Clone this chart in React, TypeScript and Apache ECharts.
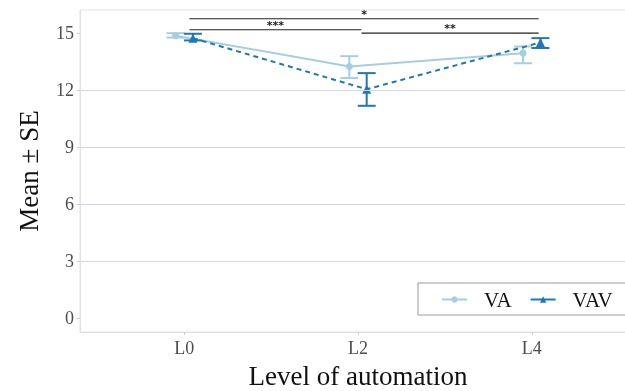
import React, { useEffect, useRef } from "react";
import * as echarts from "echarts";

const categories = ["L0", "L2", "L4"];
const vaMean = [14.85, 13.23, 13.93];
const vaLow = [14.75, 12.62, 13.4];
const vaHigh = [14.98, 13.77, 14.28];
const vavMean = [14.72, 12.03, 14.49];
const vavLow = [14.6, 11.16, 14.2];
const vavHigh = [14.95, 12.88, 14.72];
const yTicks = [0, 3, 6, 9, 12, 15];
const gridValues = [3, 6, 9, 12];
// significance brackets: [from x, to x, y, label]
const brackets: [number, number, number, string][] = [
  [0.03, 2.04, 15.74, "*"],
  [0.03, 1.02, 15.16, "***"],
  [1.02, 2.04, 14.98, "**"],
];

const VA_COLOR = "#a6cee3";
const VAV_COLOR = "#1f78b4";
const FONT = "Liberation Serif";
const DODGE = 0.05;

export default function App() {
  const ref = useRef<HTMLDivElement>(null);
  useEffect(() => {
    if (!ref.current) return;
    const chart = echarts.init(ref.current, undefined, { renderer: "svg" });
    const errRender = (color: string) => (params: any, api: any) => {
      const x = api.value(0);
      const lo = api.coord([x, api.value(1)]);
      const hi = api.coord([x, api.value(2)]);
      const hw = 9;
      const style = { stroke: color, lineWidth: 2 };
      return {
        type: "group",
        children: [
          { type: "line", shape: { x1: lo[0], y1: lo[1], x2: hi[0], y2: hi[1] }, style },
          { type: "line", shape: { x1: lo[0] - hw, y1: lo[1], x2: lo[0] + hw, y2: lo[1] }, style },
          { type: "line", shape: { x1: hi[0] - hw, y1: hi[1], x2: hi[0] + hw, y2: hi[1] }, style },
        ],
      };
    };
    chart.setOption({
      animation: false,
      textStyle: { fontFamily: FONT },
      grid: {
        left: 80,
        top: 10,
        width: 556,
        height: 322,
        outerBoundsMode: "none",
        containLabel: false,
        show: true,
        borderColor: "#e3e3e3",
        borderWidth: 1,
        backgroundColor: "transparent",
      },
      graphic: [
        {
          type: "rect",
          shape: { x: 418, y: 283, width: 260, height: 32 },
          style: { fill: "#fff", stroke: "#9a9a9a", lineWidth: 1 },
          z: 1,
        },
      ],
      legend: {
        left: 418,
        top: 283,
        padding: [6, 10, 6, 23],
        borderWidth: 0,
        itemWidth: 25,
        itemHeight: 8,
        itemGap: 18,
        z: 10,
        textStyle: { fontFamily: FONT, fontSize: 21, color: "#111", padding: [0, 0, 0, 12] },
        data: [
          { name: "VA", lineStyle: { type: "solid" } },
          { name: "VAV", lineStyle: { type: "solid" } },
        ],
      },
      xAxis: {
        type: "value",
        min: -0.6,
        max: 2.6,
        splitLine: { show: false },
        axisLine: { show: true, onZero: false, lineStyle: { color: "#e0e0e0" } },
        axisTick: { show: true, customValues: [0, 1, 2], length: 3, lineStyle: { color: "#cfcfcf" } },
        axisLabel: {
          customValues: [0, 1, 2],
          formatter: (v: number) => categories[Math.round(v)],
          fontFamily: FONT,
          fontSize: 18,
          color: "#4d4d4d",
          margin: 7,
        },
        name: "Level of automation",
        nameLocation: "middle",
        nameGap: 30,
        nameTextStyle: { fontFamily: FONT, fontSize: 27, color: "#111" },
      },
      yAxis: {
        type: "value",
        min: -0.74,
        max: 16.2,
        splitLine: { show: false },
        axisLine: { show: true, onZero: false, lineStyle: { color: "#e0e0e0" } },
        axisTick: { show: true, customValues: yTicks, length: 3, lineStyle: { color: "#cfcfcf" } },
        axisLabel: {
          customValues: yTicks,
          fontFamily: FONT,
          fontSize: 18,
          color: "#4d4d4d",
          margin: 6,
        },
        name: "Mean ± SE",
        nameLocation: "middle",
        nameGap: 38,
        nameTextStyle: { fontFamily: FONT, fontSize: 27, color: "#111" },
      },
      series: [
        {
          type: "line",
          name: "gridlines",
          data: [],
          silent: true,
          markLine: {
            silent: true,
            symbol: "none",
            label: { show: false },
            lineStyle: { color: "#d6d6e6", width: 1, type: "solid" },
            data: gridValues.map((v) => ({ yAxis: v })),
          },
        },
        {
          type: "line",
          name: "VA",
          data: vaMean.map((v, i) => [i - DODGE, v]),
          color: VA_COLOR,
          lineStyle: { color: VA_COLOR, width: 2 },
          itemStyle: { color: VA_COLOR },
          symbol: "circle",
          symbolSize: 7,
          z: 3,
        },
        {
          type: "line",
          name: "VAV",
          data: vavMean.map((v, i) => [i + DODGE, v]),
          color: VAV_COLOR,
          lineStyle: { color: VAV_COLOR, width: 2, type: [5, 4] },
          itemStyle: { color: VAV_COLOR },
          symbol: "triangle",
          symbolSize: 9,
          z: 4,
        },
        {
          type: "custom",
          name: "VA err",
          renderItem: errRender(VA_COLOR),
          data: vaMean.map((_, i) => [i - DODGE, vaLow[i], vaHigh[i]]),
          z: 3,
        },
        {
          type: "custom",
          name: "VAV err",
          renderItem: errRender(VAV_COLOR),
          data: vavMean.map((_, i) => [i + DODGE, vavLow[i], vavHigh[i]]),
          z: 4,
        },
        {
          type: "custom",
          name: "sig",
          renderItem: (params: any, api: any) => {
            const b = brackets[params.dataIndex];
            const p1 = api.coord([b[0], b[2]]);
            const p2 = api.coord([b[1], b[2]]);
            return {
              type: "group",
              children: [
                { type: "line", shape: { x1: p1[0], y1: p1[1], x2: p2[0], y2: p2[1] }, style: { stroke: "#222", lineWidth: 1.2 } },
                {
                  type: "text",
                  style: {
                    text: b[3],
                    x: (p1[0] + p2[0]) / 2,
                    y: p1[1] + 1,
                    textAlign: "center",
                    textVerticalAlign: "bottom",
                    fontFamily: "DejaVu Sans",
                    fontWeight: "bold",
                    fontSize: 11,
                    fill: "#222",
                  },
                },
              ],
            };
          },
          data: brackets.map((b) => [b[0], b[2]]),
          z: 5,
        },
      ],
    });
    return () => chart.dispose();
  }, []);
  return (
    <div
      ref={ref}
      style={{ position: "fixed", left: 0, top: 0, width: 625, height: 391 }}
    />
  );
}
